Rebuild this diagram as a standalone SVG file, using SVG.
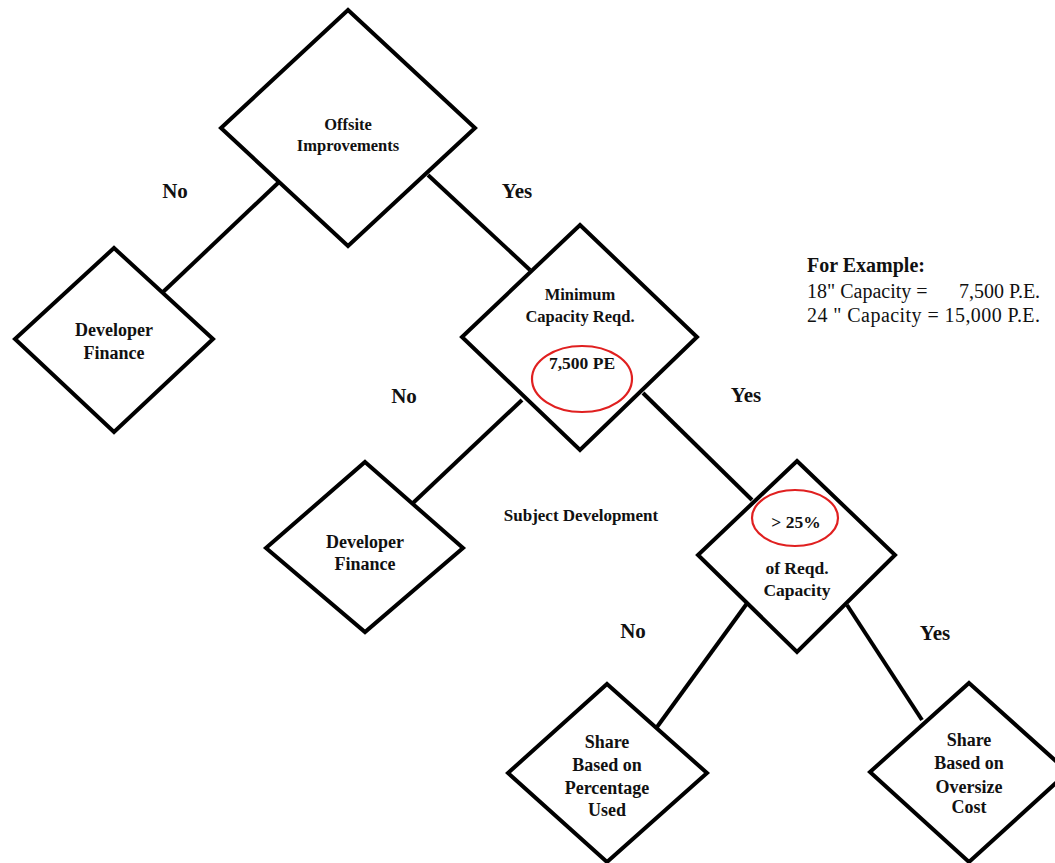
<svg xmlns="http://www.w3.org/2000/svg" width="1055" height="863" viewBox="0 0 1055 863">
<style>
.d{fill:#fff;stroke:#000;stroke-width:4;stroke-linejoin:miter}
.c{stroke:#000;stroke-width:4;fill:none}
.r{fill:none;stroke:#e02020;stroke-width:2.2}
text{font-family:"Liberation Serif","Times New Roman",serif;fill:#111}
.t{font-weight:bold;text-anchor:middle}
.s16{font-size:16.5px}
.s17{font-size:17.5px}
.s18{font-size:18px}
.lb{font-weight:bold;font-size:21px;text-anchor:middle}
.ex{font-size:20px}
</style>
<rect width="1055" height="863" fill="#fff"/>
<g id="connectors">
<line class="c" x1="278" y1="183" x2="163" y2="292"/>
<line class="c" x1="428" y1="175" x2="530" y2="270"/>
<line class="c" x1="522" y1="400" x2="413" y2="503"/>
<line class="c" x1="643" y1="393" x2="752" y2="500"/>
<line class="c" x1="748" y1="602" x2="657" y2="727"/>
<line class="c" x1="847" y1="605" x2="922" y2="720"/>
</g>
<g id="labels">
<text class="lb" x="175" y="198">No</text>
<text class="lb" x="517" y="198">Yes</text>
<text class="lb" x="404" y="403">No</text>
<text class="lb" x="746" y="402">Yes</text>
<text class="lb" x="633" y="638">No</text>
<text class="lb" x="935" y="640">Yes</text>
<text class="t" x="581" y="521" style="font-size:17px">Subject Development</text>
</g>
<g id="n-offsite">
<polygon class="d" points="348,10 475,128 348,246 221,128"/>
<text class="t s16" x="348" y="130">Offsite</text>
<text class="t s16" x="348" y="151">Improvements</text>
</g>
<g id="n-devfin1">
<polygon class="d" points="114,248 213,339 114,432 15,339"/>
<text class="t s18" x="114" y="336">Developer</text>
<text class="t s18" x="114" y="359">Finance</text>
</g>
<g id="n-mincap">
<polygon class="d" points="580,225 697,337 580,450 462,337"/>
<text class="t s16" x="580" y="300">Minimum</text>
<text class="t s16" x="580" y="322">Capacity Reqd.</text>
<ellipse class="r" cx="582" cy="379" rx="50" ry="33"/>
<text class="t s17" x="582" y="369">7,500 PE</text>
</g>
<g id="n-devfin2">
<polygon class="d" points="365,462 463,548 365,632 266,548"/>
<text class="t s18" x="365" y="548">Developer</text>
<text class="t s18" x="365" y="570">Finance</text>
</g>
<g id="n-pct">
<polygon class="d" points="797,461 895,555 797,652 698,555"/>
<ellipse class="r" cx="795" cy="518" rx="43" ry="28"/>
<text class="t s17" x="796" y="528">&gt; 25%</text>
<text class="t s17" x="797" y="574">of Reqd.</text>
<text class="t s17" x="797" y="596">Capacity</text>
</g>
<g id="n-share-pct">
<polygon class="d" points="607,684 707,773 607,862 508,773"/>
<text class="t s18" x="607" y="748">Share</text>
<text class="t s18" x="607" y="771">Based on</text>
<text class="t s18" x="607" y="794">Percentage</text>
<text class="t s18" x="607" y="816">Used</text>
</g>
<g id="n-share-over">
<polygon class="d" points="969,683 1068,772 969,862 870,772"/>
<text class="t s18" x="969" y="746">Share</text>
<text class="t s18" x="969" y="769">Based on</text>
<text class="t s18" x="969" y="793">Oversize</text>
<text class="t s18" x="969" y="813">Cost</text>
</g>
<g id="example">
<text class="ex" x="807" y="272" style="font-weight:bold">For Example:</text>
<text class="ex" x="807" y="298">18" Capacity =<tspan x="959">7,500 P.E.</tspan></text>
<text class="ex" x="807" y="322" textLength="233" lengthAdjust="spacing">24 " Capacity = 15,000 P.E.</text>
</g>
</svg>
